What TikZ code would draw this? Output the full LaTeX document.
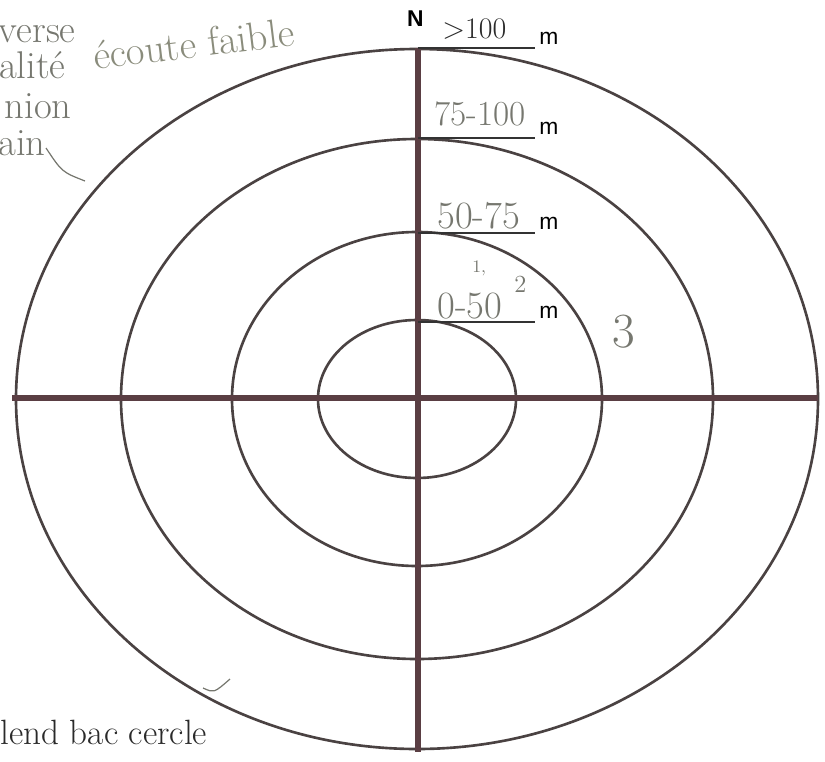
\documentclass[tikz,border=0pt]{standalone}
\usepackage{fontspec}
\newfontfamily\labelfont{Liberation Sans}
\definecolor{ringc}{HTML}{4A4242}
\definecolor{barc}{HTML}{5A3E43}
\definecolor{pencil}{HTML}{76776F}
\definecolor{sage}{HTML}{8A8C7C}
\definecolor{ink}{HTML}{2A2A2A}
\begin{document}
\begin{tikzpicture}[x=.02cm,y=-.02cm,
 ring/.style={draw=ringc,line width=1.5pt},
 bar/.style={draw=barc,line width=3.6pt},
 rule/.style={draw=black!80,line width=.8pt},
 unit/.style={inner sep=0pt,anchor=base west,font=\labelfont\fontsize{13}{13}\selectfont},
 hand/.style={inner sep=0pt,text=pencil,font=\fontsize{20}{20}\selectfont}]
\useasboundingbox (0,0) rectangle (825,761);
\clip (0,0) rectangle (825,761);
% rings
\coordinate (c) at (417,399);
\foreach \rx/\ry in {401/350,296/260,185/167,99/79}
 \draw[ring] (c) ellipse [x radius=\rx, y radius=\ry];
% cross
\coordinate (top) at (418,48);
\coordinate (bot) at (418,752);
\coordinate (west) at (12,398);
\coordinate (east) at (818,398);
\draw[bar] (top)--(bot);
\draw[bar] (west)--(east);
% distance rules
\foreach \n/\y in {a/48,b/138,c/233,d/322}{
 \coordinate (\n0) at (418,\y);
 \coordinate (\n1) at (535,\y);
 \draw[rule] (\n0)--(\n1);
 \node[unit] (m\n) at (539,\y-4) {m};}
\node[inner sep=0pt,anchor=base east,font=\labelfont\bfseries\fontsize{13}{13}\selectfont] (north) at (424,26) {N};
\node[hand,text=ink,anchor=base west,font=\fontsize{17}{17}\selectfont] (lab0) at (442,38) {>100};
\node[hand,anchor=base west] (lab1) at (434,125) {75-100};
\node[hand,anchor=base west,font=\fontsize{22}{22}\selectfont] (lab2) at (437,228) {50-75};
\node[hand,anchor=base west,font=\fontsize{22}{22}\selectfont] (lab3) at (437,318) {0-50};
\node[hand,anchor=base west,font=\fontsize{14}{14}\selectfont] (sup3) at (514,292) {2};
\node[hand,anchor=base west,font=\fontsize{10}{10}\selectfont] (mark3) at (472,272) {1,};
\node[hand,anchor=base west,font=\fontsize{28}{28}\selectfont] (ring3) at (612,347) {3};
% notes
\node[hand,text=sage,anchor=base west,rotate=7,font=\fontsize{23}{23}\selectfont] (note) at (95,70) {écoute faible};
\foreach \t/\x/\y [count=\i] in {verse/76/42,alité/66/78,nion/72/118,ain/46/155}
 \node[hand,anchor=base east,font=\fontsize{22}{22}\selectfont] (side\i) at (\x,\y) {\t};
\coordinate (tail0) at (46,148);
\coordinate (tail1) at (85,181);
\draw[pencil,line width=.7pt] (tail0) .. controls (62,172) .. (tail1);
\node[hand,text=ink,anchor=base west,font=\fontsize{20}{20}\selectfont] (foot) at (0,744) {lend bac cercle};
\coordinate (tick0) at (203,688);
\coordinate (tick1) at (230,679);
\draw[pencil,line width=.7pt] (tick0) .. controls (214,693) .. (tick1);
\end{tikzpicture}
\end{document}
